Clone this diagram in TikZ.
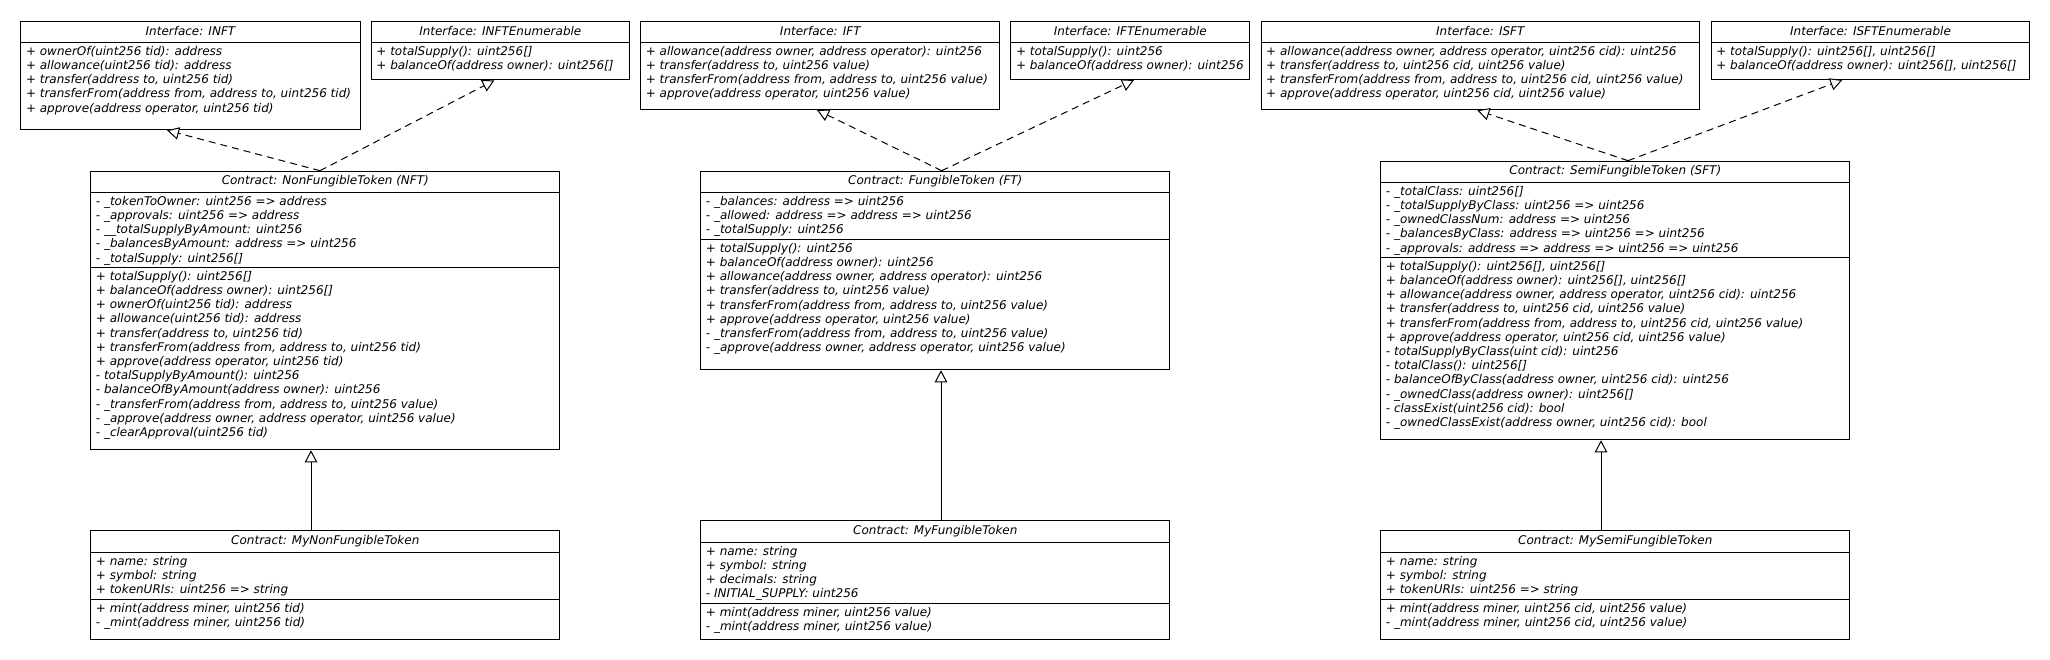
\documentclass[tikz,border=0pt]{standalone}
\usepackage{fontspec}
\setmainfont{DejaVu Sans}
\usetikzlibrary{arrows.meta}

\begin{document}
\begin{tikzpicture}[x=1pt,y=-1pt,
		cls/.style={draw,line width=1pt,anchor=north west,inner sep=0,minimum width=469},
		head/.style={inner sep=0,font=\itshape\fontsize{12}{14.2}\selectfont},
		memb/.style={anchor=north west,inner sep=0,align=left,font=\itshape\fontsize{12}{14.2}\selectfont},
		real/.style={draw,line width=1pt,dash pattern=on 7pt off 5pt,-{Triangle[length=12pt,width=12.5pt,fill=white]}},
		inh/.style={draw,line width=1pt,-{Triangle[length=12pt,width=12.5pt,fill=white]}}]
		\useasboundingbox (0,0) rectangle (2050,660);

		% interfaces
		\node[cls,minimum width=339.1,minimum height=108.6] at (20.4,20.7)(inft){};
		\node[head] at ([yshift=-10.8]inft.north)(inft-h){Interface: INFT};
		\draw([yshift=-21.6]inft.north west)--([yshift=-21.6]inft.north east);
		\node[memb] at ([xshift=5.4,yshift=-25.2]inft.north west)(inft-m){+ ownerOf(uint256 tid): address\\+ allowance(uint256 tid): address\\+ transfer(address to, uint256 tid)\\+ transferFrom(address from, address to, uint256 tid)\\+ approve(address operator, uint256 tid)};

		\node[cls,minimum width=258,minimum height=58.6] at (370.8,20.7)(inftenum){};
		\node[head] at ([yshift=-10.8]inftenum.north)(inftenum-h){Interface: INFTEnumerable};
		\draw([yshift=-21.6]inftenum.north west)--([yshift=-21.6]inftenum.north east);
		\node[memb] at ([xshift=5.4,yshift=-25.2]inftenum.north west)(inftenum-m){+ totalSupply(): uint256[]\\+ balanceOf(address owner): uint256[]};

		\node[cls,minimum width=359.2,minimum height=88.3] at (640.2,20.7)(ift){};
		\node[head] at ([yshift=-10.8]ift.north)(ift-h){Interface: IFT};
		\draw([yshift=-21.6]ift.north west)--([yshift=-21.6]ift.north east);
		\node[memb] at ([xshift=5.4,yshift=-25.2]ift.north west)(ift-m){+ allowance(address owner, address operator): uint256\\+ transfer(address to, uint256 value)\\+ transferFrom(address from, address to, uint256 value)\\+ approve(address operator, uint256 value)};

		\node[cls,minimum width=238.8,minimum height=58.3] at (1010.4,20.7)(iftenum){};
		\node[head] at ([yshift=-10.8]iftenum.north)(iftenum-h){Interface: IFTEnumerable};
		\draw([yshift=-21.6]iftenum.north west)--([yshift=-21.6]iftenum.north east);
		\node[memb] at ([xshift=5.4,yshift=-25.2]iftenum.north west)(iftenum-m){+ totalSupply(): uint256\\+ balanceOf(address owner): uint256};

		\node[cls,minimum width=438.4,minimum height=88.6] at (1260.6,20.7)(isft){};
		\node[head] at ([yshift=-10.8]isft.north)(isft-h){Interface: ISFT};
		\draw([yshift=-21.6]isft.north west)--([yshift=-21.6]isft.north east);
		\node[memb] at ([xshift=5.4,yshift=-25.2]isft.north west)(isft-m){+ allowance(address owner, address operator, uint256 cid): uint256\\+ transfer(address to, uint256 cid, uint256 value)\\+ transferFrom(address from, address to, uint256 cid, uint256 value)\\+ approve(address operator, uint256 cid, uint256 value)};

		\node[cls,minimum width=318.6,minimum height=58.3] at (1710.7,20.7)(isftenum){};
		\node[head] at ([yshift=-10.8]isftenum.north)(isftenum-h){Interface: ISFTEnumerable};
		\draw([yshift=-21.6]isftenum.north west)--([yshift=-21.6]isftenum.north east);
		\node[memb] at ([xshift=5.4,yshift=-25.2]isftenum.north west)(isftenum-m){+ totalSupply(): uint256[], uint256[]\\+ balanceOf(address owner): uint256[], uint256[]};

		% token contracts
		\node[cls,minimum height=278.6] at (90.3,170.7)(nft){};
		\node[head] at ([yshift=-10.8]nft.north)(nft-h){Contract: NonFungibleToken (NFT)};
		\draw([yshift=-21.6]nft.north west)--([yshift=-21.6]nft.north east);
		\draw([yshift=-96.6]nft.north west)--([yshift=-96.6]nft.north east);
		\node[memb] at ([xshift=5.4,yshift=-25.2]nft.north west)(nft-a){- \_tokenToOwner: uint256 => address\\- \_approvals: uint256 => address\\- \_\_totalSupplyByAmount: uint256\\- \_balancesByAmount: address => uint256\\- \_totalSupply: uint256[]};
		\node[memb] at ([xshift=5.4,yshift=-100.2]nft.north west)(nft-m){+ totalSupply(): uint256[]\\+ balanceOf(address owner): uint256[]\\+ ownerOf(uint256 tid): address\\+ allowance(uint256 tid): address\\+ transfer(address to, uint256 tid)\\+ transferFrom(address from, address to, uint256 tid)\\+ approve(address operator, uint256 tid)\\- totalSupplyByAmount(): uint256\\- balanceOfByAmount(address owner): uint256\\- \_transferFrom(address from, address to, uint256 value)\\- \_approve(address owner, address operator, uint256 value)\\- \_clearApproval(uint256 tid)};

		\node[cls,minimum height=198.6] at (700.3,170.7)(ft){};
		\node[head] at ([yshift=-10.8]ft.north)(ft-h){Contract: FungibleToken (FT)};
		\draw([yshift=-21.6]ft.north west)--([yshift=-21.6]ft.north east);
		\draw([yshift=-68.6]ft.north west)--([yshift=-68.6]ft.north east);
		\node[memb] at ([xshift=5.4,yshift=-25.2]ft.north west)(ft-a){- \_balances: address => uint256\\- \_allowed: address => address => uint256\\- \_totalSupply: uint256};
		\node[memb] at ([xshift=5.4,yshift=-72.2]ft.north west)(ft-m){+ totalSupply(): uint256\\+ balanceOf(address owner): uint256\\+ allowance(address owner, address operator): uint256\\+ transfer(address to, uint256 value)\\+ transferFrom(address from, address to, uint256 value)\\+ approve(address operator, uint256 value)\\- \_transferFrom(address from, address to, uint256 value)\\- \_approve(address owner, address operator, uint256 value)};

		\node[cls,minimum height=278.6] at (1380.3,160.7)(sft){};
		\node[head] at ([yshift=-10.8]sft.north)(sft-h){Contract: SemiFungibleToken (SFT)};
		\draw([yshift=-21.6]sft.north west)--([yshift=-21.6]sft.north east);
		\draw([yshift=-96.6]sft.north west)--([yshift=-96.6]sft.north east);
		\node[memb] at ([xshift=5.4,yshift=-25.2]sft.north west)(sft-a){- \_totalClass: uint256[]\\- \_totalSupplyByClass: uint256 => uint256\\- \_ownedClassNum: address => uint256\\- \_balancesByClass: address => uint256 => uint256\\- \_approvals: address => address => uint256 => uint256};
		\node[memb] at ([xshift=5.4,yshift=-100.2]sft.north west)(sft-m){+ totalSupply(): uint256[], uint256[]\\+ balanceOf(address owner): uint256[], uint256[]\\+ allowance(address owner, address operator, uint256 cid): uint256\\+ transfer(address to, uint256 cid, uint256 value)\\+ transferFrom(address from, address to, uint256 cid, uint256 value)\\+ approve(address operator, uint256 cid, uint256 value)\\- totalSupplyByClass(uint cid): uint256\\- totalClass(): uint256[]\\- balanceOfByClass(address owner, uint256 cid): uint256\\- \_ownedClass(address owner): uint256[]\\- classExist(uint256 cid): bool\\- \_ownedClassExist(address owner, uint256 cid): bool};

		% my tokens
		\node[cls,minimum height=109.3] at (90.3,530)(mynft){};
		\node[head] at ([yshift=-11.1]mynft.north)(mynft-h){Contract: MyNonFungibleToken};
		\draw([yshift=-22.3]mynft.north west)--([yshift=-22.3]mynft.north east);
		\draw([yshift=-69.3]mynft.north west)--([yshift=-69.3]mynft.north east);
		\node[memb] at ([xshift=5.4,yshift=-25.9]mynft.north west)(mynft-a){+ name: string\\+ symbol: string\\+ tokenURIs: uint256 => string};
		\node[memb] at ([xshift=5.4,yshift=-72.9]mynft.north west)(mynft-m){+ mint(address miner, uint256 tid)\\- \_mint(address miner, uint256 tid)};

		\node[cls,minimum height=119] at (700.3,520)(myft){};
		\node[head] at ([yshift=-11.1]myft.north)(myft-h){Contract: MyFungibleToken};
		\draw([yshift=-22.3]myft.north west)--([yshift=-22.3]myft.north east);
		\draw([yshift=-83.3]myft.north west)--([yshift=-83.3]myft.north east);
		\node[memb] at ([xshift=5.4,yshift=-25.9]myft.north west)(myft-a){+ name: string\\+ symbol: string\\+ decimals: string\\- INITIAL\_SUPPLY: uint256};
		\node[memb] at ([xshift=5.4,yshift=-86.9]myft.north west)(myft-m){+ mint(address miner, uint256 value)\\- \_mint(address miner, uint256 value)};

		\node[cls,minimum height=109.3] at (1380.3,530)(mysft){};
		\node[head] at ([yshift=-11.1]mysft.north)(mysft-h){Contract: MySemiFungibleToken};
		\draw([yshift=-22.3]mysft.north west)--([yshift=-22.3]mysft.north east);
		\draw([yshift=-69.3]mysft.north west)--([yshift=-69.3]mysft.north east);
		\node[memb] at ([xshift=5.4,yshift=-25.9]mysft.north west)(mysft-a){+ name: string\\+ symbol: string\\+ tokenURIs: uint256 => string};
		\node[memb] at ([xshift=5.4,yshift=-72.9]mysft.north west)(mysft-m){+ mint(address miner, uint256 cid, uint256 value)\\- \_mint(address miner, uint256 cid, uint256 value)};

		% realization and inheritance
		\path([xshift=229.7]nft.north west)edge[real]([xshift=146.6]inft.south west)
			([xshift=229.7]nft.north west)edge[real]([xshift=123.6]inftenum.south west);
		\path([xshift=241.4]ft.north west)edge[real]([xshift=176.8]ift.south west)
			([xshift=241.4]ft.north west)edge[real]([xshift=123.6]iftenum.south west);
		\path([xshift=247.7]sft.north west)edge[real]([xshift=216.7]isft.south west)
			([xshift=247.7]sft.north west)edge[real]([xshift=131.6]isftenum.south west);
		\path([xshift=220.7]mynft.north west)edge[inh]([xshift=220.7]nft.south west)
			([xshift=240.7]myft.north west)edge[inh]([xshift=240.7]ft.south west)
			([xshift=220.7]mysft.north west)edge[inh]([xshift=220.7]sft.south west);
	\end{tikzpicture}
\end{document}
